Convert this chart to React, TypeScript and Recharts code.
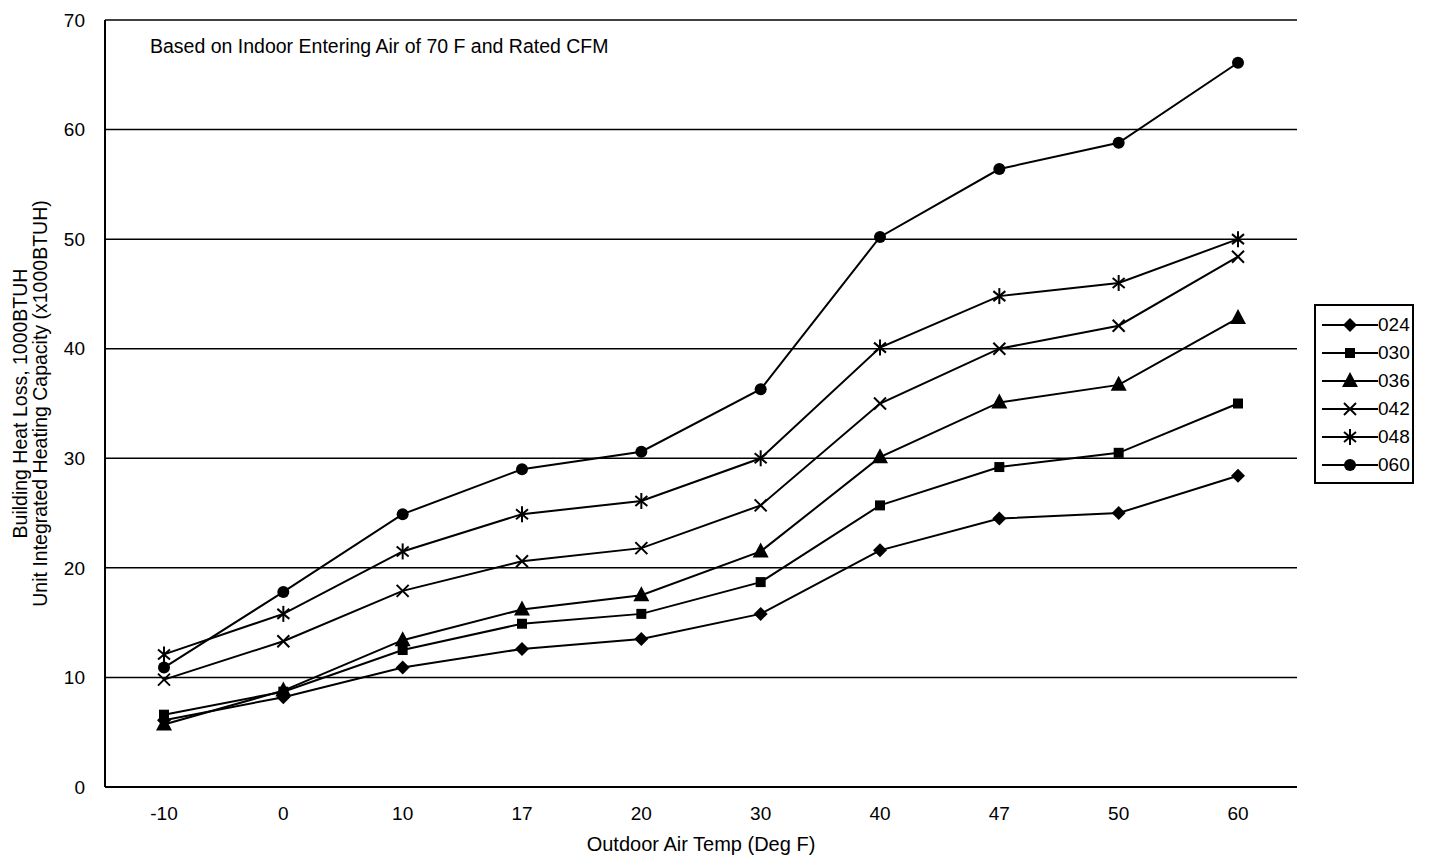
import { LineChart, Line, XAxis, YAxis, CartesianGrid, Label } from 'recharts';

const TEMPS = ['-10', '0', '10', '17', '20', '30', '40', '47', '50', '60'];
const SERIES_NAMES = ['024', '030', '036', '042', '048', '060'];
const CAP_024 = [6.1, 8.2, 10.9, 12.6, 13.5, 15.8, 21.6, 24.5, 25.0, 28.4];
const CAP_030 = [6.6, 8.7, 12.5, 14.9, 15.8, 18.7, 25.7, 29.2, 30.5, 35.0];
const CAP_036 = [5.7, 8.8, 13.4, 16.2, 17.5, 21.5, 30.1, 35.1, 36.7, 42.8];
const CAP_042 = [9.8, 13.3, 17.9, 20.6, 21.8, 25.7, 35.0, 40.0, 42.1, 48.4];
const CAP_048 = [12.1, 15.8, 21.5, 24.9, 26.1, 30.0, 40.1, 44.8, 46.0, 50.0];
const CAP_060 = [10.9, 17.8, 24.9, 29.0, 30.6, 36.3, 50.2, 56.4, 58.8, 66.1];
const Y_TICKS = [0, 10, 20, 30, 40, 50, 60, 70];

const SERIES_VALUES = [CAP_024, CAP_030, CAP_036, CAP_042, CAP_048, CAP_060];
const SHAPES = ['diamond', 'square', 'triangle', 'cross', 'star', 'circle'];

const FONT = '"Liberation Sans", Arial, sans-serif';

function Marker({ shape, cx, cy }: { shape: string; cx: number; cy: number }) {
  switch (shape) {
    case 'diamond':
      return <polygon points={`${cx},${cy - 7} ${cx + 7},${cy} ${cx},${cy + 7} ${cx - 7},${cy}`} fill="#000" />;
    case 'square':
      return <rect x={cx - 5} y={cy - 5} width={10} height={10} fill="#000" />;
    case 'triangle':
      return <polygon points={`${cx},${cy - 9} ${cx + 8},${cy + 6} ${cx - 8},${cy + 6}`} fill="#000" />;
    case 'cross':
      return (
        <g stroke="#000" strokeWidth={2}>
          <line x1={cx - 6} y1={cy - 6} x2={cx + 6} y2={cy + 6} />
          <line x1={cx - 6} y1={cy + 6} x2={cx + 6} y2={cy - 6} />
        </g>
      );
    case 'star':
      return (
        <g stroke="#000" strokeWidth={2}>
          <line x1={cx} y1={cy - 8} x2={cx} y2={cy + 8} />
          <line x1={cx - 6} y1={cy - 5} x2={cx + 6} y2={cy + 5} />
          <line x1={cx - 6} y1={cy + 5} x2={cx + 6} y2={cy - 5} />
        </g>
      );
    default:
      return <circle cx={cx} cy={cy} r={6} fill="#000" />;
  }
}

const data = TEMPS.map((t, i) => {
  const row: Record<string, string | number> = { temp: t };
  SERIES_NAMES.forEach((name, s) => {
    row[name] = SERIES_VALUES[s][i];
  });
  return row;
});

function YTitle(props: any) {
  const { viewBox } = props;
  const cy = viewBox.y + viewBox.height / 2;
  return (
    <text transform={`rotate(-90, 0, ${cy})`} x={0} y={cy} textAnchor="middle" fontFamily={FONT} fontSize={19.5} fill="#000">
      <tspan x={0} y={cy + 27}>Building Heat Loss, 1000BTUH</tspan>
      <tspan x={0} y={cy + 47}>Unit Integrated Heating Capacity (x1000BTUH)</tspan>
    </text>
  );
}

function Legend6() {
  return (
    <div
      style={{
        position: 'absolute',
        left: 1314,
        top: 304,
        width: 100,
        height: 180,
        border: '2px solid #000',
        background: '#fff',
        fontFamily: FONT,
        fontSize: 19,
        paddingTop: 5,
        boxSizing: 'border-box',
      }}
    >
      {SERIES_NAMES.map((name, i) => (
        <div key={name} style={{ display: 'flex', alignItems: 'center', height: 28 }}>
          <svg width={58} height={20} style={{ marginLeft: 4 }}>
            <line x1={2} y1={10} x2={58} y2={10} stroke="#000" strokeWidth={2} />
            <Marker shape={SHAPES[i]} cx={30} cy={10} />
          </svg>
          <span>{name}</span>
        </div>
      ))}
    </div>
  );
}

export default function App() {
  return (
    <div style={{ position: 'absolute', left: 0, top: 0, width: 1429, height: 860, background: '#fff' }}>
      <LineChart
        width={1429}
        height={860}
        data={data}
        margin={{ top: 20, right: 132, bottom: 43, left: 45 }}
        style={{ fontFamily: FONT }}
      >
        <CartesianGrid vertical={false} stroke="#000" strokeWidth={1.5} />
        <XAxis
          dataKey="temp"
          height={30}
          padding={{ left: 59, right: 59 }}
          tickLine={false}
          tickMargin={14}
          axisLine={{ stroke: '#000', strokeWidth: 2 }}
          tick={{ fill: '#000', fontSize: 19, fontFamily: FONT }}
        >
          <Label value="Outdoor Air Temp (Deg F)" position="bottom" offset={20} fill="#000" fontSize={20} fontFamily={FONT} />
        </XAxis>
        <YAxis
          width={60}
          domain={[0, 70]}
          ticks={Y_TICKS}
          tickLine={false}
          tickMargin={14}
          axisLine={{ stroke: '#000', strokeWidth: 2 }}
          tick={{ fill: '#000', fontSize: 19, fontFamily: FONT }}
          label={<YTitle />}
        />
        <YAxis
          yAxisId="right"
          orientation="right"
          width={0}
          domain={[0, 70]}
          tick={false}
          tickLine={false}
          axisLine={{ stroke: '#000', strokeWidth: 1.5 }}
        />
        {SERIES_NAMES.map((name, i) => (
          <Line
            key={name}
            dataKey={name}
            stroke="#000"
            strokeWidth={2}
            isAnimationActive={false}
            dot={(p: any) => <Marker key={`${name}-${p.index}`} shape={SHAPES[i]} cx={p.cx} cy={p.cy} />}
            activeDot={false}
          />
        ))}
      </LineChart>
      <div style={{ position: 'absolute', left: 150, top: 35, fontFamily: FONT, fontSize: 19.5, color: '#000' }}>
        Based on Indoor Entering Air of 70 F and Rated CFM
      </div>
      <Legend6 />
    </div>
  );
}
